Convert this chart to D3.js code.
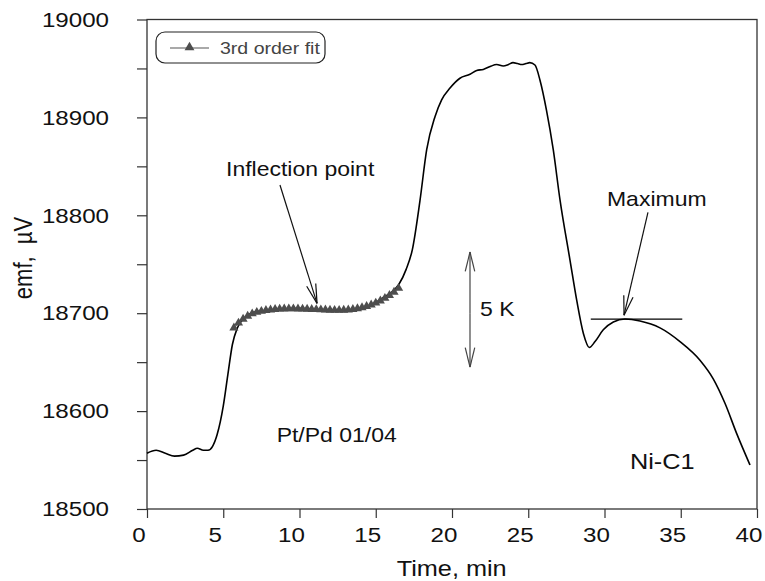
<!DOCTYPE html>
<html lang="en">
<head>
<meta charset="UTF-8">
<title>emf vs time, Ni-C1</title>
<script src="https://d3js.org/d3.v7.min.js"></script>
<style>
    body { margin: 0; background: #fff; }
    svg { display: block; }
    text { font-family: "Liberation Sans", Arial, sans-serif; fill: #111; }
</style>
</head>
<body>
<script>
    // measured curve, time in min and emf in µV
    const timeMin = [0, 0.6, 1.2, 1.8, 2.4, 3.0, 3.3, 3.7, 4.0, 4.3, 4.6, 5.0, 5.3, 5.6, 5.9, 6.2, 6.6, 7.0,
        8.0, 9.0, 10.0, 11.0, 12.0, 13.0, 14.0, 15.0, 15.5, 16.0, 16.5, 17.0, 17.4, 17.9, 18.34, 18.89,
        19.32, 19.87, 20.52, 21.18, 21.62, 22.05, 22.5, 22.93, 23.36, 23.7, 24.0, 24.3, 24.57, 24.85, 25.1,
        25.44, 25.77, 26.2, 26.64, 27.08, 27.74, 28.18, 28.62, 29.0, 29.38, 29.92, 30.58, 31.34, 32.33,
        33.64, 34.95, 36.26, 37.13, 37.9, 38.67, 39.54]
    const emf = [18557, 18560, 18557, 18554, 18555, 18560, 18562, 18560, 18560, 18564, 18576, 18605, 18637, 18668, 18684, 18692, 18698, 18701,
        18703, 18704, 18705, 18704, 18703, 18703, 18705, 18711, 18716, 18721, 18729, 18745, 18765, 18815, 18867, 18901,
        18918, 18930, 18940, 18944, 18948, 18949, 18952, 18954, 18952.5, 18954, 18956, 18955, 18954, 18955, 18956,
        18953.5, 18938, 18907, 18867, 18816, 18754, 18713, 18679, 18665, 18671, 18683, 18691, 18694, 18692,
        18685, 18671, 18652, 18633, 18608, 18577, 18545]

    // 3rd order fit (triangles)
    const fitTime = [5.7, 6.0, 6.3, 6.6, 6.9, 7.2, 7.5, 7.8, 8.1, 8.4, 8.7, 9.0, 9.3, 9.6, 9.9, 10.2, 10.5, 10.8, 11.1,
        11.4, 11.7, 12.0, 12.3, 12.6, 12.9, 13.2, 13.5, 13.8, 14.1, 14.4, 14.7, 15.0, 15.3, 15.6, 15.9, 16.2, 16.5]
    const fitEmf = [18685, 18690, 18694, 18697, 18699.5, 18701, 18702, 18703, 18703.5, 18704, 18704.3, 18704.5, 18704.6, 18704.6, 18704.5, 18704.4, 18704.2, 18704, 18703.8,
        18703.6, 18703.4, 18703.2, 18703.1, 18703.1, 18703.2, 18703.5, 18704, 18704.7, 18705.7, 18707, 18708.6, 18710.5, 18712.7, 18715.3, 18718.3, 18721.6, 18725.5]

    const xTicks = [0, 5, 10, 15, 20, 25, 30, 35, 40]
    const yTicks = [18500, 18600, 18700, 18800, 18900, 19000]
    const yMinor = [18550, 18650, 18750, 18850, 18950]

    // the source picture is a bit wider than it is tall, text is stretched with it
    const SX = 1.15
    const width = 765
    const height = 581
    const plot = {left: 147, right: 757, top: 19.5, bottom: 509}

    const svg = d3.select("body").append("svg")
        .attr("width", width)
        .attr("height", height)

    const x = d3.scaleLinear().domain([0, 40]).range([plot.left, plot.right])
    const y = d3.scaleLinear().domain([18500, 19000]).range([plot.bottom, plot.top])

    function label(str, px, py, size, fill) {
        return svg.append("text")
            .attr("transform", `translate(${px},${py}) scale(${SX},1)`)
            .attr("font-size", size)
            .style("fill", fill || "#111")
            .text(str)
    }

    function arrow(x1, y1, x2, y2, color) {
        const g = svg.append("g").attr("stroke", color || "#111").attr("stroke-width", 1.2).attr("fill", "none")
        g.append("line").attr("x1", x1).attr("y1", y1).attr("x2", x2).attr("y2", y2)
        const a = Math.atan2(y1 - y2, x1 - x2)
        const len = 20, spread = 0.24
        ;[a - spread, a + spread].forEach(b => {
            g.append("line")
                .attr("x1", x2).attr("y1", y2)
                .attr("x2", x2 + len * Math.cos(b)).attr("y2", y2 + len * Math.sin(b))
        })
    }

    // axes
    const gx = svg.append("g")
        .attr("transform", `translate(0,${plot.bottom})`)
        .call(d3.axisBottom(x).tickValues(xTicks).tickSize(9).tickPadding(9).tickSizeOuter(0))
    const gy = svg.append("g")
        .attr("transform", `translate(${plot.left},0)`)
        .call(d3.axisLeft(y).tickValues(yTicks.concat(yMinor)).tickSize(10).tickSizeOuter(0)
            .tickFormat(d => yTicks.includes(d) ? d : ""))

    ;[gx, gy].forEach(g => {
        g.select(".domain").remove()
        g.selectAll(".tick line").attr("stroke", "#333").attr("stroke-width", 1.2)
        g.selectAll("text").attr("font-size", 21).attr("font-family", "'Liberation Sans', Arial, sans-serif")
            .style("fill", "#111")
    })
    gx.selectAll("text").attr("dx", -8.5 / SX).attr("transform", `scale(${SX},1)`)
    gy.selectAll("text").attr("x", -38 / SX).attr("transform", `scale(${SX},1)`)

    // frame
    svg.append("rect")
        .attr("x", plot.left).attr("y", plot.top)
        .attr("width", plot.right - plot.left).attr("height", plot.bottom - plot.top)
        .attr("fill", "none").attr("stroke", "#333").attr("stroke-width", 1.3)

    label("Time, min", 453 - 49 * SX, 576, 22)
    svg.append("text")
        .attr("transform", `translate(32,258) scale(${SX},1) rotate(-90)`)
        .attr("text-anchor", "middle")
        .attr("font-size", 22)
        .style("white-space", "pre")
        .text("emf,  µV")

    // measured curve
    const line = d3.line()
        .x((d, i) => x(timeMin[i]))
        .y(d => y(d))
        .curve(d3.curveMonotoneX)
    svg.append("path")
        .datum(emf)
        .attr("d", line)
        .attr("fill", "none")
        .attr("stroke", "#000")
        .attr("stroke-width", 1.6)

    // fit
    const fitLine = d3.line()
        .x((d, i) => x(fitTime[i]))
        .y(d => y(d))
    svg.append("path")
        .datum(fitEmf)
        .attr("d", fitLine)
        .attr("fill", "none")
        .attr("stroke", "#555")
        .attr("stroke-width", 1)
    const tri = d3.symbol().type(d3.symbolTriangle).size(36)
    svg.append("g").selectAll("path")
        .data(fitEmf)
        .join("path")
        .attr("d", tri)
        .attr("transform", (d, i) => `translate(${x(fitTime[i])},${y(d)})`)
        .attr("fill", "#4d4d4d")

    // annotations
    label("Inflection point", x(5.18), y(18840), 20)
    arrow(x(8.72), y(18831), x(11.15), y(18710))

    label("Maximum", x(30.16), y(18809.5), 20)
    arrow(x(32.85), y(18803), x(31.28), y(18698))
    svg.append("line")
        .attr("x1", x(29.1)).attr("x2", x(35.1))
        .attr("y1", y(18694)).attr("y2", y(18694))
        .attr("stroke", "#000").attr("stroke-width", 1.2)

    arrow(x(21.18), y(18700), x(21.18), y(18762.5), "#444")
    arrow(x(21.18), y(18700), x(21.18), y(18645), "#444")
    label("5 K", x(21.84), y(18697), 20)

    label("Pt/Pd 01/04", x(8.5), y(18568.7), 20)
    label("Ni-C1", x(31.67), y(18540.5), 22)

    // legend
    const lg = svg.append("g")
    lg.append("rect")
        .attr("x", 156).attr("y", 32).attr("width", 169).attr("height", 31).attr("rx", 9)
        .attr("fill", "#fff").attr("stroke", "#222").attr("stroke-width", 1.2)
    lg.append("line")
        .attr("x1", 170).attr("x2", 209).attr("y1", 48).attr("y2", 48)
        .attr("stroke", "#555").attr("stroke-width", 1.2)
    lg.append("path")
        .attr("d", d3.symbol().type(d3.symbolTriangle).size(42))
        .attr("transform", "translate(189.5,47.5)")
        .attr("fill", "#4d4d4d")
    label("3rd order fit", 220, 54, 17, "#444")
</script>
</body>
</html>
